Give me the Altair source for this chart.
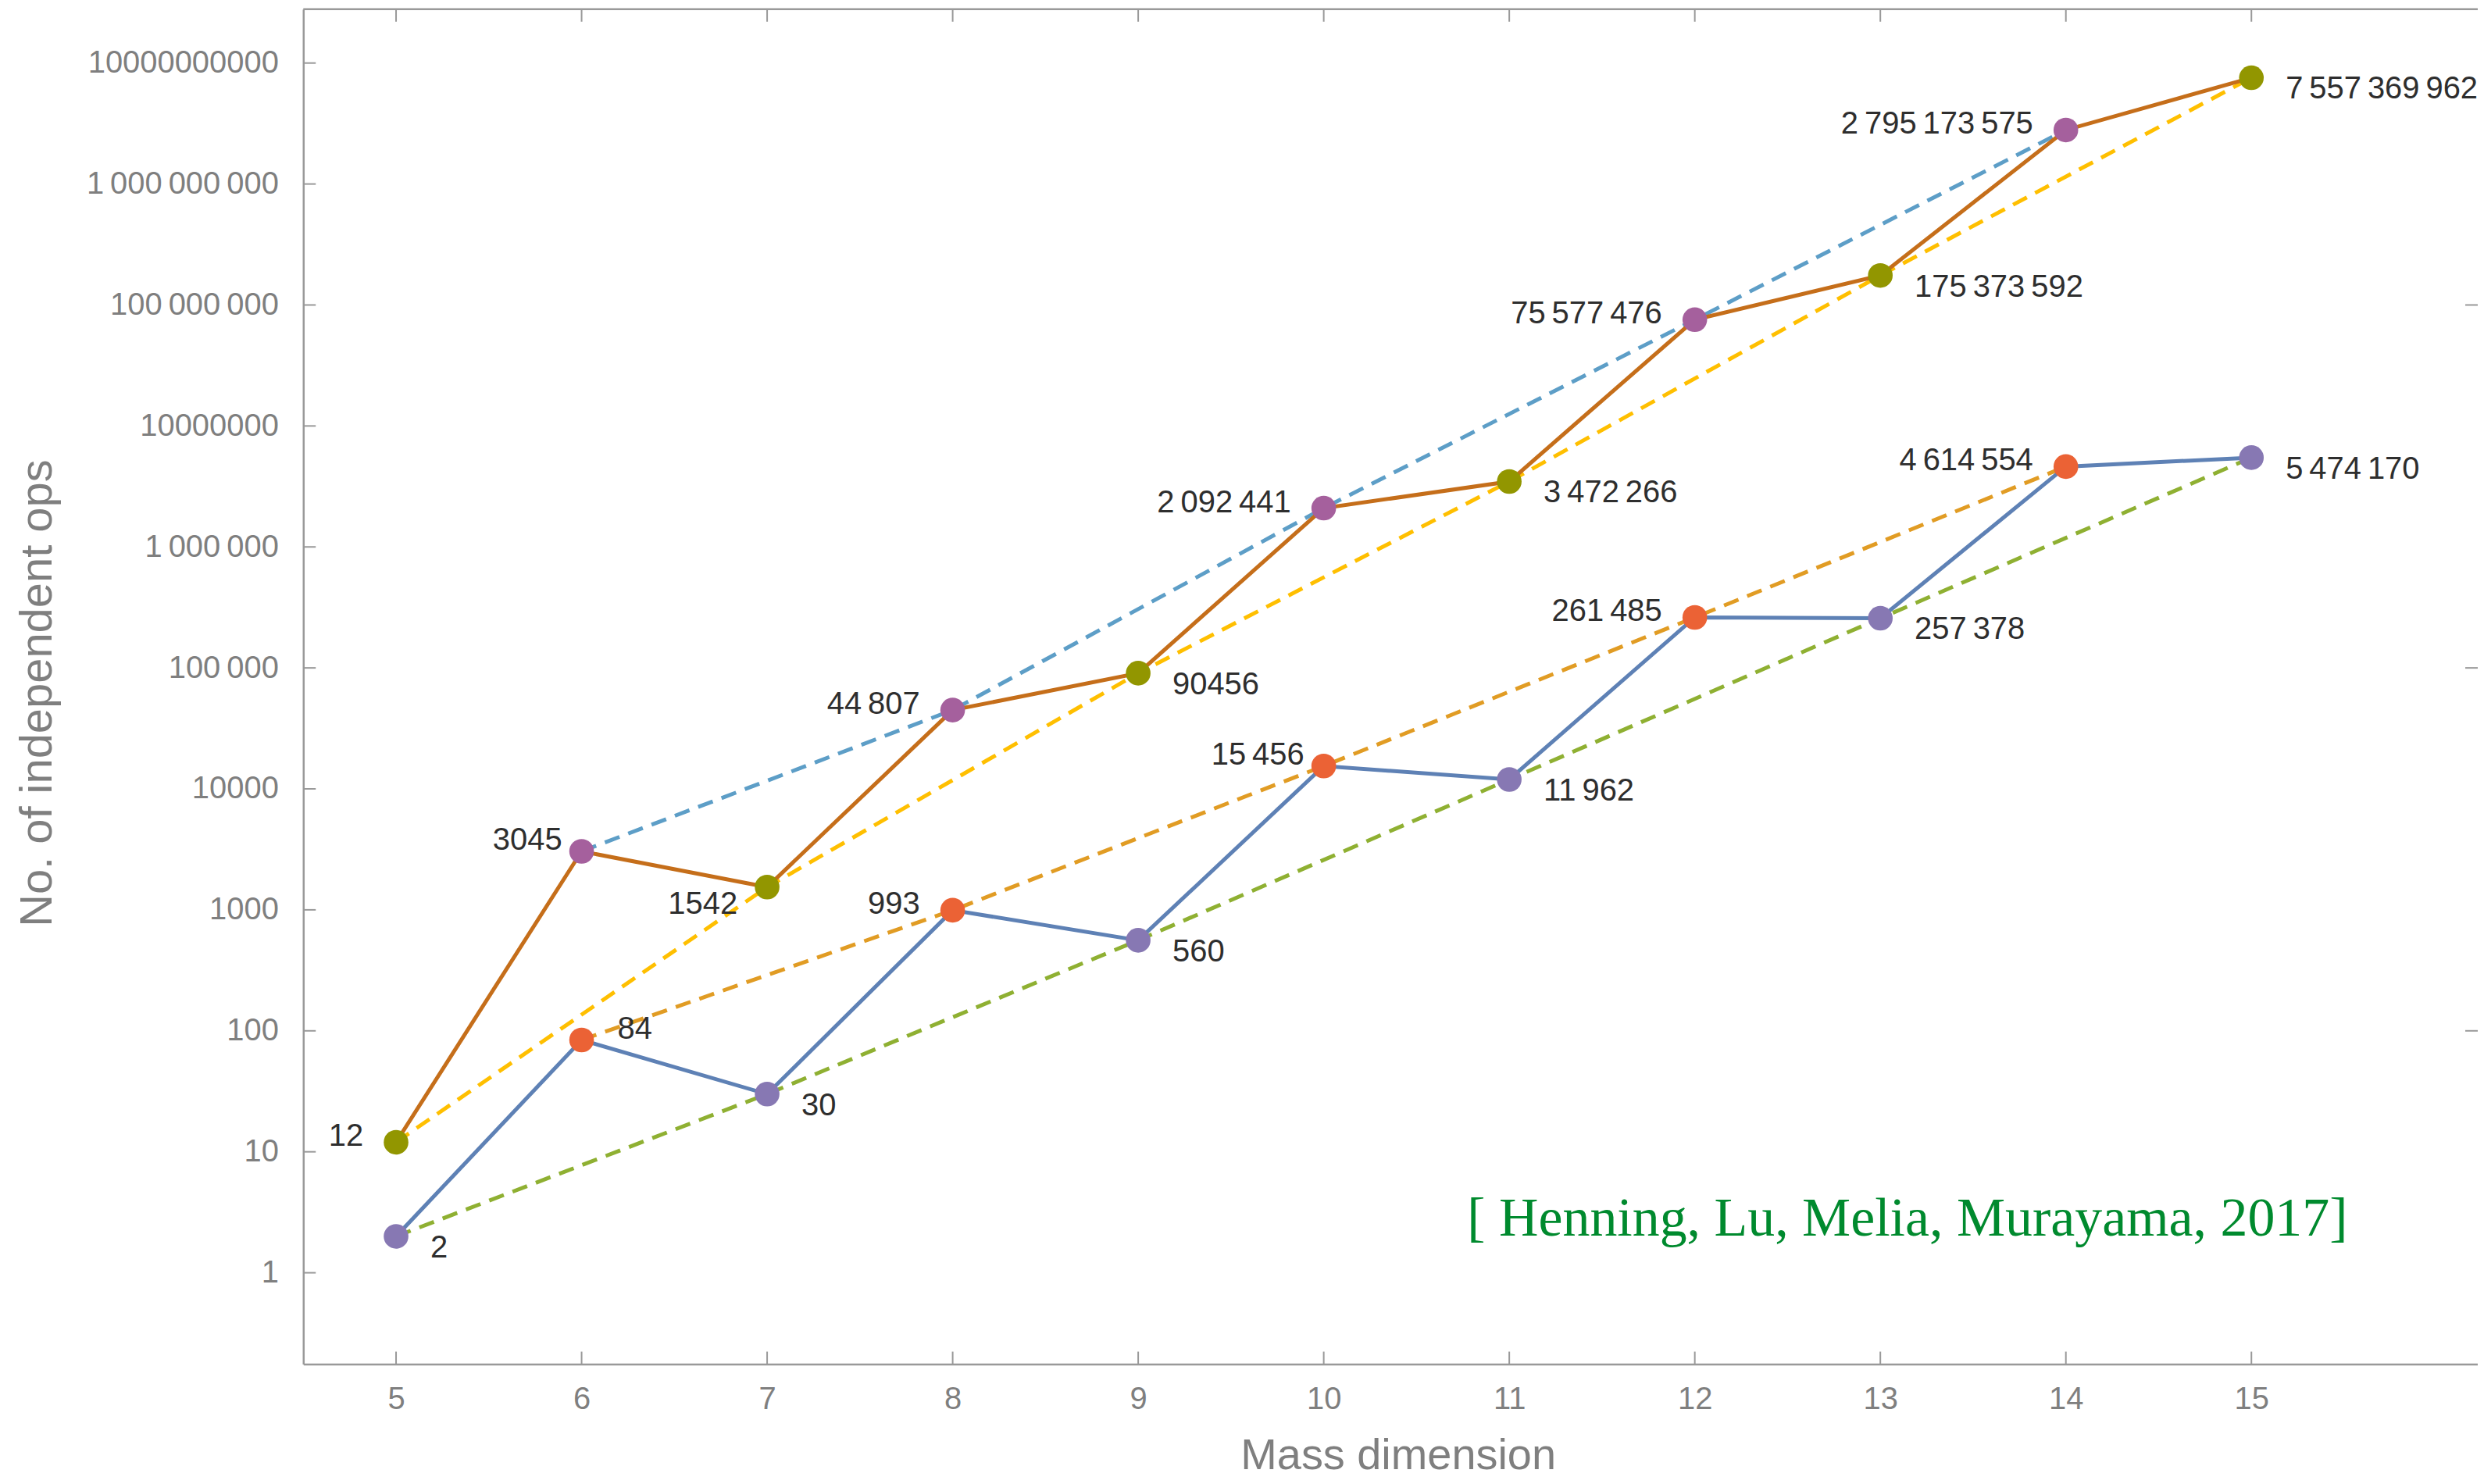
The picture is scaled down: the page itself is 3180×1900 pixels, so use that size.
import json
import altair as alt
import pandas as pd

# ---------------- data ----------------
mass = [5, 6, 7, 8, 9, 10, 11, 12, 13, 14, 15]
upper_ops = [12, 3045, 1542, 44807, 90456, 2092441, 3472266, 75577476,
             175373592, 2795173575, 7557369962]
lower_ops = [2, 84, 30, 993, 560, 15456, 11962, 261485, 257378, 4614554, 5474170]

upper_labels = ["12", "3045", "1542", "44\u2009807", "90456", "2\u2009092\u2009441",
                "3\u2009472\u2009266", "75\u2009577\u2009476", "175\u2009373\u2009592",
                "2\u2009795\u2009173\u2009575", "7\u2009557\u2009369\u2009962"]
lower_labels = ["2", "84", "30", "993", "560", "15\u2009456", "11\u2009962",
                "261\u2009485", "257\u2009378", "4\u2009614\u2009554", "5\u2009474\u2009170"]

# which side of its point each value label sits on
upper_sides = ["l", "la", "lb", "l", "rb", "l", "rb", "l", "rb", "l", "rb"]
lower_sides = ["rb", "ra", "rb", "l", "rb", "la", "rb", "l", "rb", "l", "rb"]

y_ticks = [1, 10, 100, 1000, 10000, 100000, 1000000, 10000000, 100000000,
           1000000000, 10000000000]
y_tick_labels = ["1", "10", "100", "1000", "10000", "100\u2009000", "1\u2009000\u2009000",
                 "10000000", "100\u2009000\u2009000", "1\u2009000\u2009000\u2009000",
                 "10000000000"]
right_ticks = [100, 100000, 100000000]
x_ticks = mass

x_title = "Mass dimension"
y_title = "No. of independent ops"
citation = "[ Henning, Lu, Melia, Murayama, 2017]"
citation_mass = 13.146
citation_ops = 2.75

# ---------------- styling ----------------
W, H = 2789, 1738
AX = "#999999"
LABEL = "#7f7f7f"
TXT = "#2e2e2e"
FONT = "Liberation Sans"

groups = ["upper-even", "upper-odd", "lower-even", "lower-odd"]
point_colors = ["#A5609D", "#929600", "#EB6235", "#8778B3"]
dash_colors = ["#5D9EC7", "#FFBF00", "#E19C24", "#8FB032"]
series_names = ["upper", "lower"]
series_colors = ["#C56E1A", "#5E81B5"]

rows = []
for series, vals, labs, sides in (("upper", upper_ops, upper_labels, upper_sides),
                                  ("lower", lower_ops, lower_labels, lower_sides)):
    for m, v, lab, sd in zip(mass, vals, labs, sides):
        par = "even" if m % 2 == 0 else "odd"
        rows.append(dict(mass=m, ops=v, label=lab, side=sd, series=series,
                         group=f"{series}-{par}"))
df = pd.DataFrame(rows)

xscale = alt.Scale(domain=[4.5, 16.22], nice=False, zero=False)
yscale = alt.Scale(type="log", domain=[10 ** -0.755, 10 ** 10.445], nice=False)

label_expr = ("[" + ",".join(json.dumps(s, ensure_ascii=False) for s in y_tick_labels)
              + "][indexof([" + ",".join(str(v) for v in y_ticks) + "], datum.value)]")

x_axis = alt.Axis(values=x_ticks, title=x_title, ticks=False, grid=False, format="d",
                  domainColor=AX, domainWidth=2.5, labelPadding=25, titlePadding=25,
                  labelFontSize=40, titleFontSize=56, labelColor=LABEL, titleColor=LABEL,
                  labelFont=FONT, titleFont=FONT, titleFontWeight="normal",
                  titleX=1404)
y_axis = alt.Axis(values=y_ticks, labelExpr=label_expr, title=y_title, ticks=False,
                  grid=False, domainColor=AX, domainWidth=2.5, labelPadding=32,
                  labelLimit=500, labelFontSize=40, titleFontSize=58,
                  labelColor=LABEL, titleColor=LABEL, labelFont=FONT, titleFont=FONT,
                  titleFontWeight="normal", titleX=-311, titleY=877)

# the same axis objects on every field-encoded layer so they merge into one
X = alt.X("mass:Q", scale=xscale, axis=x_axis)
Y = alt.Y("ops:Q", scale=yscale, axis=y_axis)

base = alt.Chart(df)

dashed = base.mark_line(strokeWidth=5, strokeDash=[20, 12]).encode(
    x=X, y=Y,
    color=alt.Color("group:N", scale=alt.Scale(domain=groups, range=dash_colors), legend=None),
)

solid = base.mark_line(strokeWidth=5).encode(
    x=X, y=Y,
    color=alt.Color("series:N", scale=alt.Scale(domain=series_names, range=series_colors),
                    legend=None),
)

points = base.mark_circle(size=1000, opacity=1).encode(
    x=X, y=Y,
    color=alt.Color("group:N", scale=alt.Scale(domain=groups, range=point_colors), legend=None),
)

side_cfg = {
    "rb": ("left", 44, 15),
    "ra": ("left", 46, -14),
    "l": ("right", -42, -7),
    "la": ("right", -25, -14),
    "lb": ("right", -38, 22),
}
text_layers = []
for sd, (align, dx, dy) in side_cfg.items():
    text_layers.append(
        base.transform_filter(alt.datum.side == sd).mark_text(
            align=align, baseline="middle", dx=dx, dy=dy, fontSize=40, font=FONT, color=TXT
        ).encode(x=X, y=Y, text="label:N")
    )

TL = 16
ydf = pd.DataFrame({"ops": y_ticks})
rdf = pd.DataFrame({"ops": right_ticks})
xdf = pd.DataFrame({"mass": x_ticks})
left_ticks = alt.Chart(ydf).mark_rule(color=AX, strokeWidth=2).encode(
    y=Y, x=alt.value(0), x2=alt.value(TL))
right_tick_marks = alt.Chart(rdf).mark_rule(color=AX, strokeWidth=2).encode(
    y=Y, x=alt.value(W - TL), x2=alt.value(W))
bottom_ticks = alt.Chart(xdf).mark_rule(color=AX, strokeWidth=2).encode(
    x=X, y=alt.value(H - TL), y2=alt.value(H))
top_ticks = alt.Chart(xdf).mark_rule(color=AX, strokeWidth=2).encode(
    x=X, y=alt.value(0), y2=alt.value(TL))
top_frame = alt.Chart(pd.DataFrame({"k": [0]})).mark_rule(color=AX, strokeWidth=2.5).encode(
    x=alt.value(0), x2=alt.value(W), y=alt.value(0))

cite = alt.Chart(pd.DataFrame({"mass": [citation_mass], "ops": [citation_ops],
                               "txt": [citation]})).mark_text(
    font="Liberation Serif", fontSize=70, color="#008A2E", align="center", baseline="middle"
).encode(x=X, y=Y, text="txt:N")

chart = alt.layer(
    dashed, solid, points, *text_layers,
    left_ticks, right_tick_marks, bottom_ticks, top_ticks, top_frame, cite
).resolve_scale(color="independent").properties(
    width=W, height=H,
    autosize=alt.AutoSizeParams(type="none"),
    padding={"left": 381, "top": 2, "right": 0, "bottom": 150},
    background="white",
).configure_view(stroke=None)

chart.save("out.html", embed_options={"renderer": "svg", "actions": False})
